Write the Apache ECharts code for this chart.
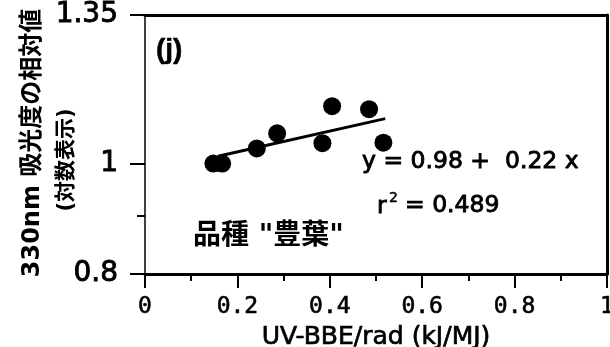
<!DOCTYPE html>
<html>
<head>
<meta charset="utf-8">
<script src="https://cdn.jsdelivr.net/npm/echarts@6/dist/echarts.min.js"></script>
<style>html,body{margin:0;padding:0;background:#fff}#c{width:610px;height:347px}</style>
</head>
<body>
<div id="c"></div>
<script>
// Data
const xValues = [0.148, 0.167, 0.242, 0.286, 0.384, 0.405, 0.485, 0.516];
const yValues = [1.0, 1.0, 1.031, 1.063, 1.042, 1.123, 1.116, 1.043];
const fitX = [0.158, 0.52];
const fitY = [1.015, 1.095];
const xTicks = [0, 0.2, 0.4, 0.6, 0.8, 1];
const xTickLabels = ['0', '0.2', '0.4', '0.6', '0.8', '1'];
const yTicks = [0.8, 1, 1.35];
const yTickLabels = ['0.8', '1', '1.35'];
const yMinorTicks = [0.9];
const xName = 'UV-BBE/rad (kJ/MJ)';
const yNameLine1 = '330nm 吸光度の相対値';
const yNameLine2 = '(対数表示)';
const panelLabel = '(j)';
const eqText = 'y = 0.98 +  0.22 x';
const r2Value = '= 0.489';
const cultivar = '品種 "豊葉"';

const F = '"DejaVu Sans", "Noto Sans CJK JP", sans-serif';
const FL = '"Liberation Sans", Arial, sans-serif';
const chart = echarts.init(document.getElementById('c'), null, {renderer: 'canvas'});
const pts = xValues.map((x, i) => [x, yValues[i]]);
const fit = fitX.map((x, i) => [x, fitY[i]]);
function lab(vals, labels) { return v => { const i = vals.findIndex(t => Math.abs(t - v) < 1e-6); return i >= 0 ? labels[i] : ''; }; }
const heavy = {stroke: '#000', lineWidth: 0.9};

chart.setOption({
  animation: false,
  backgroundColor: '#fff',
  grid: {left: 145, right: 3, top: 15, bottom: 73, containLabel: false, outerBoundsMode: 'none'},
  xAxis: [{
    type: 'value', min: 0, max: 1, interval: 0.2, position: 'bottom',
    axisLine: {show: true, onZero: false, lineStyle: {color: '#000', width: 3}},
    axisTick: {show: true, length: 14, lineStyle: {color: '#000', width: 2}},
    minorTick: {show: true, splitNumber: 2, length: 7, lineStyle: {color: '#000', width: 2}},
    axisLabel: {margin: 22, fontFamily: '"DejaVu Sans Mono", monospace', fontSize: 23, color: '#000',
      textBorderColor: '#000', textBorderWidth: 0.6, formatter: lab(xTicks, xTickLabels)},
    splitLine: {show: false},
    name: xName, nameLocation: 'middle', nameGap: 51,
    nameTextStyle: {fontFamily: F, fontSize: 25, color: '#000', textBorderColor: '#000', textBorderWidth: 0.7}
  }, {
    type: 'value', min: 0, max: 1, position: 'top',
    axisLine: {show: true, onZero: false, lineStyle: {color: '#000', width: 3}},
    axisTick: {show: false}, axisLabel: {show: false}, splitLine: {show: false}
  }],
  yAxis: [{
    type: 'log', logBase: 10, min: 0.8, max: 1.35, position: 'left',
    axisLine: {show: true, onZero: false, lineStyle: {color: '#000', width: 1.5}},
    axisTick: {show: true, length: 15, customValues: yTicks, lineStyle: {color: '#000', width: 2}},
    axisLabel: {margin: 27, fontFamily: F, fontSize: 28, color: '#000', textBorderColor: '#000', textBorderWidth: 0.9,
      customValues: yTicks, formatter: lab(yTicks, yTickLabels)},
    splitLine: {show: false}
  }, {
    type: 'log', logBase: 10, min: 0.8, max: 1.35, position: 'right',
    axisLine: {show: true, onZero: false, lineStyle: {color: '#000', width: 3}},
    axisTick: {show: false}, axisLabel: {show: false}, splitLine: {show: false}
  }, {
    type: 'log', logBase: 10, min: 0.8, max: 1.35, position: 'left',
    axisLine: {show: false},
    axisTick: {show: true, length: 8, customValues: yMinorTicks, lineStyle: {color: '#000', width: 2}},
    axisLabel: {show: false}, splitLine: {show: false}
  }],
  series: [{
    type: 'line', data: fit, showSymbol: false, symbol: 'none',
    lineStyle: {color: '#000', width: 3}, z: 2
  }, {
    type: 'scatter', data: pts, symbol: 'circle', symbolSize: 18,
    itemStyle: {color: '#000', opacity: 1}, z: 3
  }],
  graphic: [
    {type: 'text', x: 33, y: 143, rotation: Math.PI / 2,
      style: {text: yNameLine1, font: 'bold 24px ' + F, fill: '#000', textAlign: 'center', textVerticalAlign: 'middle'}},
    {type: 'text', x: 67, y: 160, rotation: Math.PI / 2,
      style: {text: yNameLine2, font: 'bold 21px ' + F, fill: '#000', textAlign: 'center', textVerticalAlign: 'middle'}},
    {type: 'text', x: 156, y: 50,
      style: Object.assign({text: panelLabel, font: 'bold 28px ' + FL, fill: '#000', textAlign: 'left', textVerticalAlign: 'middle'}, {stroke: '#000', lineWidth: 0.5})},
    {type: 'text', x: 362, y: 162,
      style: Object.assign({text: eqText, font: '23.5px ' + F, fill: '#000', textAlign: 'left', textVerticalAlign: 'middle'}, heavy)},
    {type: 'text', x: 377, y: 207,
      style: Object.assign({text: 'r', font: '23.5px ' + F, fill: '#000', textAlign: 'left', textVerticalAlign: 'middle'}, heavy)},
    {type: 'text', x: 389, y: 198,
      style: Object.assign({text: '2', font: '14px ' + F, fill: '#000', textAlign: 'left', textVerticalAlign: 'middle'}, {stroke: '#000', lineWidth: 0.5})},
    {type: 'text', x: 405, y: 206,
      style: Object.assign({text: r2Value, font: '23.5px ' + F, fill: '#000', textAlign: 'left', textVerticalAlign: 'middle'}, heavy)},
    {type: 'text', x: 193, y: 237,
      style: {text: cultivar, font: 'bold 28px ' + F, fill: '#000', textAlign: 'left', textVerticalAlign: 'middle'}}
  ]
});
</script>
</body>
</html>
